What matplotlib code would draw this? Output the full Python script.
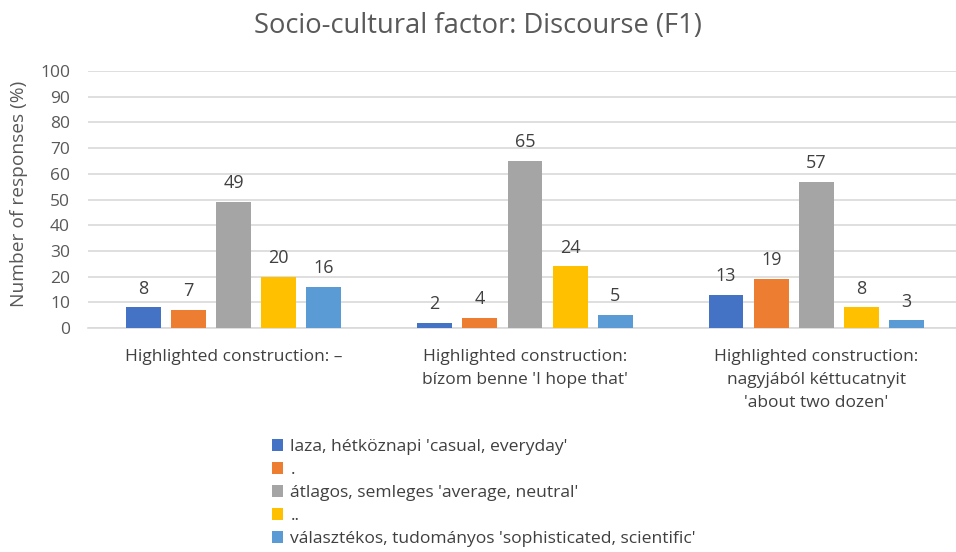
import matplotlib
matplotlib.use("Agg")
import matplotlib.pyplot as plt
import numpy as np

categories = ["Highlighted construction: \u2013",
              "Highlighted construction:\nb\u00edzom benne 'I hope that'",
              "Highlighted construction:\nnagyj\u00e1b\u00f3l k\u00e9ttucatnyit\n'about two dozen'"]
series_names = ["laza, h\u00e9tk\u00f6znapi 'casual, everyday'",
                ".",
                "\u00e1tlagos, semleges 'average, neutral'",
                "..",
                "v\u00e1laszt\u00e9kos, tudom\u00e1nyos 'sophisticated, scientific'"]
casual = [8, 2, 13]
dot1 = [7, 4, 19]
neutral = [49, 65, 57]
dot2 = [20, 24, 8]
sophisticated = [16, 5, 3]
yticks = list(range(0, 101, 10))

values = [casual, dot1, neutral, dot2, sophisticated]
colors = ["#4472C4", "#ED7D31", "#A5A5A5", "#FFC000", "#5B9BD5"]

plt.rcParams['font.family'] = ['Open Sans', 'DejaVu Sans']
txt = "#595959"

fig = plt.figure(figsize=(9.56, 5.52), dpi=100)
ax = fig.add_axes([88/956, 1-328/552, 874/956, 257/552])

x = np.arange(len(categories))
bw = 0.12
step = 0.155
for i, (vals, c, name) in enumerate(zip(values, colors, series_names)):
    pos = x + (i - 2) * step
    bars = ax.bar(pos, vals, bw, color=c, label=name, zorder=3)
    for b, v in zip(bars, vals):
        ax.annotate(str(v), (b.get_x() + b.get_width()/2, v), xytext=(0, 13.5),
                    textcoords='offset points', ha='center', va='center',
                    fontsize=13, color="#404040")

ax.set_xlim(-0.5, 2.5)
ax.set_ylim(0, 100)
ax.set_yticks(yticks)
ax.set_yticklabels([str(t) for t in yticks], fontsize=12.5, color=txt)
ax.yaxis.grid(True, color="#D9D9D9", linewidth=1.2, zorder=0)
ax.set_xticks(x)
ax.set_xticklabels(categories, fontsize=12.5, color="#404040", linespacing=1.6)
ax.tick_params(axis='both', length=0)
ax.tick_params(axis='x', pad=15)
ax.tick_params(axis='y', pad=13)
for s in ['top', 'right', 'left']:
    ax.spines[s].set_visible(False)
ax.spines['bottom'].set_color("#D9D9D9")
ax.spines['bottom'].set_linewidth(1.2)
ax.set_ylabel("Number of responses (%)", fontsize=13.8, color=txt)
ax.yaxis.set_label_coords(-(88-28)/874, 1-(194-71)/257)

fig.text(0.5, 1-26/552, "Socio-cultural factor: Discourse (F1)", ha='center', va='center',
         fontsize=19.7, color=txt)

handles, labels = ax.get_legend_handles_labels()
fig.legend(handles, labels, loc='upper left', bbox_to_anchor=(272/956, 1-439/552),
           frameon=False, fontsize=12.6, labelcolor="#404040", handlelength=0.65,
           handleheight=0.65, handletextpad=0.4, labelspacing=0.4, borderaxespad=0,
           borderpad=0)

fig.savefig("out.png", dpi=100)
